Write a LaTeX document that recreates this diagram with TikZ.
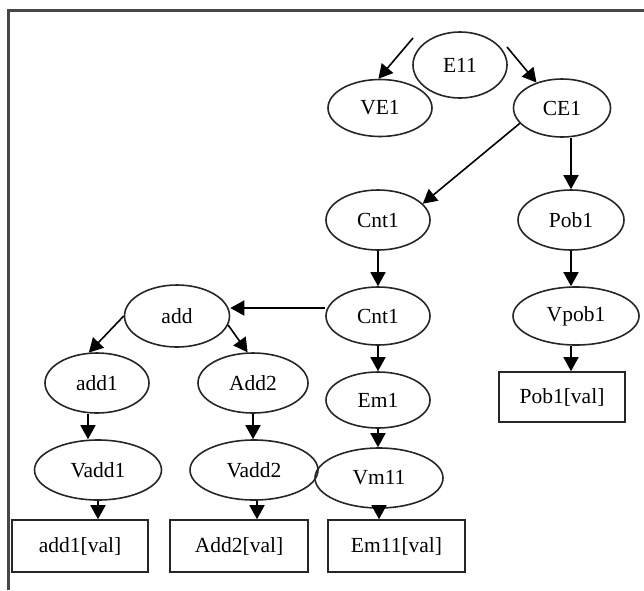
\documentclass[tikz,border=0pt]{standalone}
\usepackage{fontspec}
\setmainfont{Liberation Serif}
\usetikzlibrary{shapes.geometric,arrows.meta}
\begin{document}
\begin{tikzpicture}[x=1pt,y=-1pt,
  every node/.style={font=\fontsize{21.5}{25}\selectfont},
  ell/.style={draw=black!85,line width=1.6pt,ellipse,inner sep=0pt},
  valbox/.style={draw=black!85,line width=1.6pt,rectangle,inner sep=0pt,minimum height=52pt},
  arr/.style={draw=black,line width=1.6pt,-{Triangle[length=14pt,width=15pt]}},
  frameline/.style={draw=black!72,line width=3pt}]
\useasboundingbox (0,0) rectangle (644,590);
\draw[frameline] (8,590) -- (8,10) -- (644,10);
% ellipses
\node[ell,minimum width=94pt,minimum height=66pt] (e11) at (460,65) {E11};
\node[ell,minimum width=104pt,minimum height=57pt] (ve1) at (380,108) {VE1};
\node[ell,minimum width=97pt,minimum height=58pt] (ce1) at (562,108) {CE1};
\node[ell,minimum width=104pt,minimum height=60pt] (cnta) at (378,220) {Cnt1};
\node[ell,minimum width=106pt,minimum height=60pt] (pob1) at (571,220) {Pob1};
\node[ell,minimum width=104pt,minimum height=58pt] (cntb) at (378,316) {Cnt1};
\node[ell,minimum width=126pt,minimum height=58pt] (vpob1) at (576,316) {Vpob1};
\node[ell,minimum width=105pt,minimum height=62pt] (add) at (177,316) {add};
\node[ell,minimum width=104pt,minimum height=60pt] (add1) at (97,383) {add1};
\node[ell,minimum width=110pt,minimum height=60pt] (add2) at (253,383) {Add2};
\node[ell,minimum width=104pt,minimum height=56pt] (em1) at (378,400) {Em1};
\node[ell,minimum width=127pt,minimum height=60pt] (vadd1) at (98,470) {Vadd1};
\node[ell,minimum width=128pt,minimum height=60pt] (vadd2) at (254,470) {Vadd2};
\node[ell,minimum width=128pt,minimum height=60pt] (vml1) at (379,478) {Vm11};
% boxes
\node[valbox,minimum width=126pt,minimum height=50pt] (pobval) at (562,397) {Pob1[val]};
\node[valbox,minimum width=136pt] (add1val) at (80,546) {add1[val]};
\node[valbox,minimum width=138pt] (add2val) at (239,546) {Add2[val]};
\node[valbox,minimum width=137pt] (emval) at (396.5,546) {Em11[val]};
% free ends
\coordinate (vefree) at (413,38);
\coordinate (cefree) at (507,47);
% connectors
\draw[arr] (vefree) -- (ve1.93);
\draw[arr] (cefree) -- (ce1.135);
\draw[arr] (ce1.200) -- (cnta.20);
\draw[arr] (pob1.north |- ce1.south) -- (pob1.north);
\draw[arr] (pob1.south) -- (pob1.south |- vpob1.north);
\draw[arr] (pob1.south |- vpob1.south) -- (pob1.south |- pobval.north);
\draw[arr] (cnta.south) -- (cntb.north);
\draw[arr] (cntb.south) -- (em1.north);
\draw[arr] (em1.south) -- (em1.south |- vml1.north);
\draw[arr] (vml1.south) -- (vml1.south |- emval.north);
\draw[arr] ([yshift=8pt]cntb.west) -- ([yshift=8pt]add.east);
\draw[arr] (add.west) -- (add1.105);
\draw[arr] (add.-10) -- (add2.100);
\draw[arr] ([xshift=-9pt]add1.south) -- ([xshift=-9pt]add1.south |- vadd1.north);
\draw[arr] (vadd1.south) -- (vadd1.south |- add1val.north);
\draw[arr] (add2.south) -- (add2.south |- vadd2.north);
\draw[arr] ([xshift=3pt]vadd2.south) -- ([xshift=3pt]vadd2.south |- add2val.north);
\end{tikzpicture}
\end{document}
